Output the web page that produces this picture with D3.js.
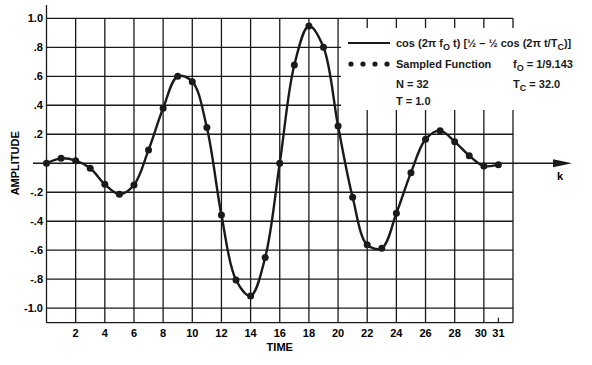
<!DOCTYPE html>
<html lang="en">
<head>
    <meta charset="UTF-8">
    <title>Sampled Function</title>
    <style>
        body { margin: 0; background: #fff; }
        svg { display: block; font-family: 'Liberation Sans', Arial, sans-serif; font-weight: bold; }
    </style>
</head>
<body>
    <div id="chart"></div>
    <script src="https://d3js.org/d3.v7.min.js"></script>
    <script>
        // sample index k (time) and sampled amplitude
        const timeK = [0, 1, 2, 3, 4, 5, 6, 7, 8, 9, 10, 11, 12, 13, 14, 15,
                       16, 17, 18, 19, 20, 21, 22, 23, 24, 25, 26, 27, 28, 29, 30, 31];
        const sampled = [0, 0.034, 0.018, -0.034, -0.145, -0.214, -0.15, 0.092,
                         0.379, 0.60, 0.563, 0.246, -0.357, -0.805, -0.915, -0.651,
                         0, 0.678, 0.947, 0.80, 0.257, -0.235, -0.563, -0.586,
                         -0.345, -0.065, 0.165, 0.225, 0.149, 0.052, -0.019, -0.01];
        const xTicks = [2, 4, 6, 8, 10, 12, 14, 16, 18, 20, 22, 24, 26, 28, 30, 31];
        const xGrid = [2, 4, 6, 8, 10, 12, 14, 16, 18, 20, 22, 24, 26, 28, 30, 32];
        const yTicks = [1.0, 0.8, 0.6, 0.4, 0.2, -0.2, -0.4, -0.6, -0.8, -1.0];
        const yTickLabels = ['1.0', '.8', '.6', '.4', '.2', '-.2', '-.4', '-.6', '-.8', '-1.0'];

        const width = 592, height = 365;
        const ink = '#1a1a1a';

        const x = d3.scaleLinear().domain([0, 32]).range([46.5, 513]);
        const y = d3.scaleLinear().domain([-1.1, 1.0]).range([322.7, 18.3]);

        const svg = d3.select('#chart').append('svg')
            .attr('width', width)
            .attr('height', height);

        // grid
        const grid = svg.append('g').attr('stroke', ink).attr('stroke-width', 1.3);
        grid.selectAll('.vg').data(xGrid).enter().append('line')
            .attr('x1', d => x(d)).attr('x2', d => x(d))
            .attr('y1', y(1.0)).attr('y2', y(-1.1));
        grid.selectAll('.hg').data(yTicks).enter().append('line')
            .attr('x1', x(0)).attr('x2', x(32))
            .attr('y1', d => y(d)).attr('y2', d => y(d));
        // bottom frame
        grid.append('line')
            .attr('x1', x(0)).attr('x2', x(32))
            .attr('y1', y(-1.1)).attr('y2', y(-1.1));
        // vertical axis, runs above the grid
        grid.append('line')
            .attr('x1', x(0)).attr('x2', x(0))
            .attr('y1', 5).attr('y2', y(-1.1));

        // legend panel hides the grid behind it
        svg.append('rect')
            .attr('x', 341).attr('y', 28)
            .attr('width', 251).attr('height', 82)
            .attr('fill', '#fff');

        // horizontal axis with arrow
        svg.append('line')
            .attr('x1', 33).attr('x2', 556)
            .attr('y1', y(0)).attr('y2', y(0))
            .attr('stroke', ink).attr('stroke-width', 1.5);
        svg.append('path')
            .attr('d', `M553,${y(0) - 4}L572,${y(0)}L553,${y(0) + 4}Z`)
            .attr('fill', ink);
        svg.append('text')
            .attr('x', 557).attr('y', 180)
            .style('font-size', '11px')
            .text('k');

        // tick at 31
        svg.append('line')
            .attr('x1', x(31)).attr('x2', x(31))
            .attr('y1', y(-1.1) - 5).attr('y2', y(-1.1))
            .attr('stroke', ink).attr('stroke-width', 1.2);

        // tick labels
        svg.selectAll('.xl').data(xTicks).enter().append('text')
            .attr('x', d => x(d) + (d === 30 ? -3 : 0))
            .attr('y', 337)
            .attr('text-anchor', 'middle')
            .style('font-size', '11px')
            .text(d => d);
        svg.selectAll('.yl').data(yTicks).enter().append('text')
            .attr('x', 43)
            .attr('y', d => y(d) + 4)
            .attr('text-anchor', 'end')
            .style('font-size', '11px')
            .text((d, i) => yTickLabels[i]);

        svg.append('text')
            .attr('x', x(16)).attr('y', 351)
            .attr('text-anchor', 'middle')
            .style('font-size', '11px')
            .text('TIME');
        svg.append('text')
            .attr('transform', `translate(19,${y(0)}) rotate(-90)`)
            .attr('text-anchor', 'middle')
            .style('font-size', '11px')
            .text('AMPLITUDE');

        // continuous curve through the samples
        const line = d3.line()
            .x((d, i) => x(timeK[i]))
            .y(d => y(d))
            .curve(d3.curveCatmullRom.alpha(0.5));
        svg.append('path')
            .datum(sampled)
            .attr('d', line)
            .attr('fill', 'none')
            .attr('stroke', ink)
            .attr('stroke-width', 2.4);

        svg.selectAll('.dot').data(sampled).enter().append('circle')
            .attr('cx', (d, i) => x(timeK[i]))
            .attr('cy', d => y(d))
            .attr('r', 3.5)
            .attr('fill', ink);

        // legend
        const lg = svg.append('g').style('font-size', '11px').attr('fill', ink);
        lg.append('line')
            .attr('x1', 348).attr('x2', 390).attr('y1', 43).attr('y2', 43)
            .attr('stroke', ink).attr('stroke-width', 2);
        const t1 = lg.append('text').attr('x', 396).attr('y', 47);
        t1.append('tspan').text('cos (2\u03C0 f');
        t1.append('tspan').attr('dy', 3).style('font-size', '9px').text('O');
        t1.append('tspan').attr('dy', -3).text(' t) [\u00BD \u2013 \u00BD cos (2\u03C0 t/T');
        t1.append('tspan').attr('dy', 3).style('font-size', '9px').text('C');
        t1.append('tspan').attr('dy', -3).text(')]');

        lg.selectAll('.ld').data([351, 363, 375, 387]).enter().append('circle')
            .attr('cx', d => d).attr('cy', 64).attr('r', 2.6);
        lg.append('text').attr('x', 396).attr('y', 68).text('Sampled Function');
        const t2 = lg.append('text').attr('x', 513).attr('y', 68);
        t2.append('tspan').text('f');
        t2.append('tspan').attr('dy', 3).style('font-size', '9px').text('O');
        t2.append('tspan').attr('dy', -3).text(' = 1/9.143');

        lg.append('text').attr('x', 396).attr('y', 88).text('N = 32');
        const t3 = lg.append('text').attr('x', 513).attr('y', 88);
        t3.append('tspan').text('T');
        t3.append('tspan').attr('dy', 3).style('font-size', '9px').text('C');
        t3.append('tspan').attr('dy', -3).text(' = 32.0');

        lg.append('text').attr('x', 396).attr('y', 105).text('T = 1.0');
    </script>
</body>
</html>
